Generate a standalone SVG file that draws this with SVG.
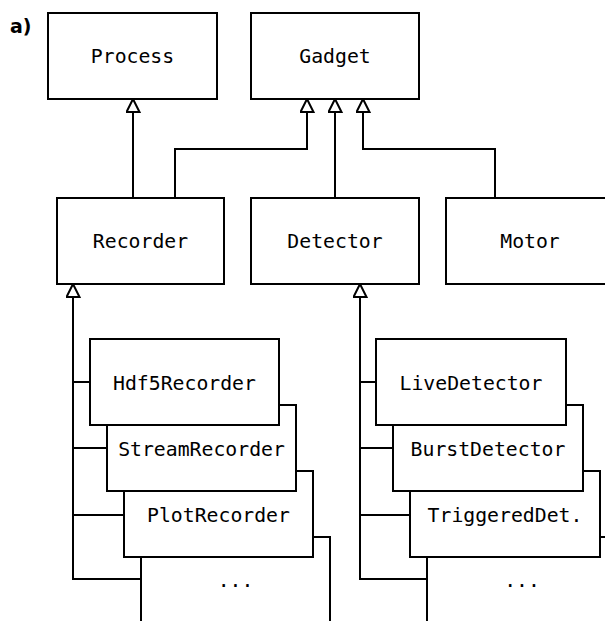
<svg xmlns="http://www.w3.org/2000/svg" width="605" height="621" viewBox="0 0 605 621">
<style>
.box{fill:#fff;stroke:#000;stroke-width:2}
.lbl{font-family:"DejaVu Sans Mono",monospace;font-size:19.8px;text-anchor:middle;fill:#000}
.con{fill:none;stroke:#000;stroke-width:2}
</style>
<defs>
<marker id="tri" markerUnits="userSpaceOnUse" markerWidth="16" markerHeight="16" viewBox="-1 -1 16 16" refX="13" refY="6.5" orient="auto">
<path d="M0,0 L13,6.5 L0,13 Z" fill="#fff" stroke="#000" stroke-width="2"/>
</marker>
</defs>
<rect width="605" height="621" fill="#fff"/>
<text x="10" y="33" font-family="DejaVu Sans,sans-serif" font-weight="bold" font-size="19">a)</text>
<g id="connectors">
<path class="con" d="M133,198 V99" marker-end="url(#tri)"/>
<path class="con" d="M175,198 V149 H307 V99" marker-end="url(#tri)"/>
<path class="con" d="M335,198 V99" marker-end="url(#tri)"/>
<path class="con" d="M495,198 V149 H363 V99" marker-end="url(#tri)"/>
<path class="con" d="M73,579 V284" marker-end="url(#tri)"/>
<path class="con" d="M72,382 H90 M72,448 H107 M72,515 H124 M72,579 H141"/>
<path class="con" d="M360,579 V284" marker-end="url(#tri)"/>
<path class="con" d="M359,382 H376 M359,448 H393 M359,515 H410 M359,579 H427"/>
</g>
<g id="process"><rect class="box" x="48" y="13" width="169" height="86"/><text class="lbl" x="132.5" y="63">Process</text></g>
<g id="gadget"><rect class="box" x="251" y="13" width="168" height="86"/><text class="lbl" x="335" y="63">Gadget</text></g>
<g id="recorder"><rect class="box" x="57" y="198" width="167" height="86"/><text class="lbl" x="140.5" y="248">Recorder</text></g>
<g id="detector"><rect class="box" x="251" y="198" width="168" height="86"/><text class="lbl" x="335" y="248">Detector</text></g>
<g id="motor"><rect class="box" x="446" y="198" width="168" height="86"/><text class="lbl" x="530" y="248">Motor</text></g>
<g id="rec-more"><rect class="box" x="141" y="537" width="189" height="86"/><text class="lbl" x="235.5" y="587">...</text></g>
<g id="plotrecorder"><rect class="box" x="124" y="471" width="189" height="86"/><text class="lbl" x="218.5" y="522">PlotRecorder</text></g>
<g id="streamrecorder"><rect class="box" x="107" y="405" width="189" height="86"/><text class="lbl" x="201.5" y="456">StreamRecorder</text></g>
<g id="hdf5recorder"><rect class="box" x="90" y="339" width="189" height="86"/><text class="lbl" x="184.5" y="390">Hdf5Recorder</text></g>
<g id="det-more"><rect class="box" x="427" y="537" width="190" height="86"/><text class="lbl" x="522" y="587">...</text></g>
<g id="triggereddet"><rect class="box" x="410" y="471" width="190" height="86"/><text class="lbl" x="505" y="522">TriggeredDet.</text></g>
<g id="burstdetector"><rect class="box" x="393" y="405" width="190" height="86"/><text class="lbl" x="488" y="456">BurstDetector</text></g>
<g id="livedetector"><rect class="box" x="376" y="339" width="190" height="86"/><text class="lbl" x="471" y="390">LiveDetector</text></g>
</svg>
